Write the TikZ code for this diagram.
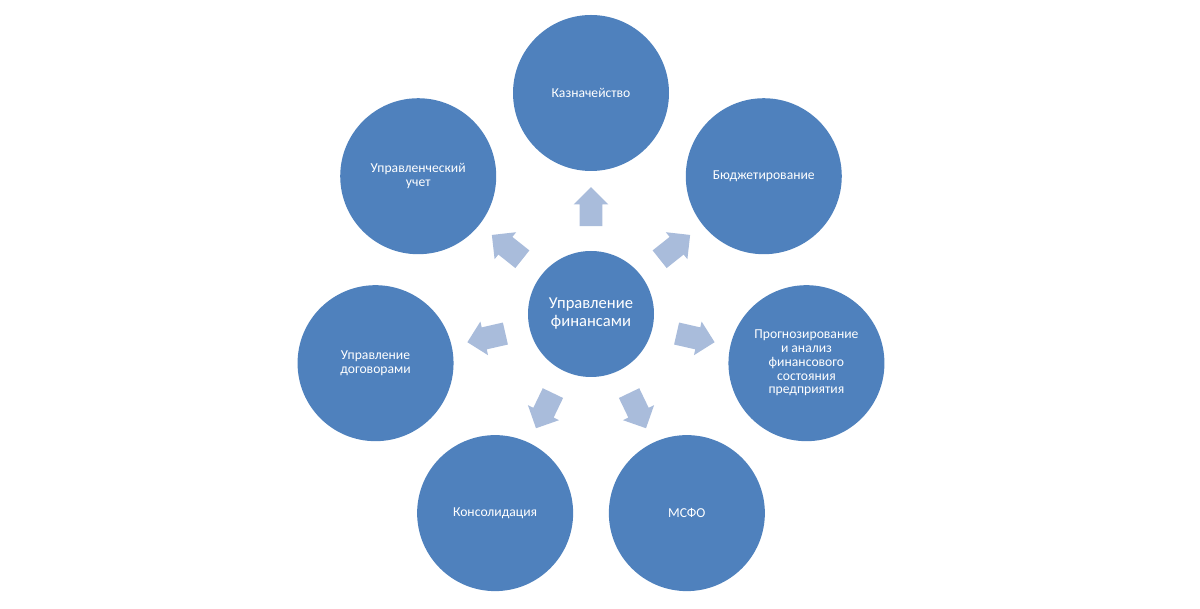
\documentclass[tikz,border=0pt]{standalone}
\usepackage{fontspec}
\setmainfont{Carlito}
\usetikzlibrary{shapes.arrows,calc}
\definecolor{circblue}{HTML}{4F81BD}
\definecolor{arrblue}{HTML}{A9BCDB}
\begin{document}
\begin{tikzpicture}[
    bigc/.style={circle,fill=circblue,minimum size=3.15cm,inner sep=0pt,text=white,align=center,font=\fontsize{11.8}{12.8}\selectfont},
    smallc/.style={circle,fill=circblue,minimum size=3.9cm,inner sep=0pt,text=white,align=center,font=\fontsize{9.7}{9.8}\selectfont},
    blockarr/.style={single arrow,fill=arrblue,minimum height=0.975cm,inner xsep=0pt,inner ysep=0.275cm,single arrow head extend=0.15cm}]
    \useasboundingbox (-14.775,-7.375) rectangle (15.225,7.85);
    \node[bigc] (fin) at (0,0) {Управление\\финансами};
    \node[smallc] (kazn) at (90:5.525) {Казначейство};
    \node[smallc] (budg) at (38.57:5.525) {Бюджетирование};
    \node[smallc] (prog) at (-12.86:5.525) {Прогнозирование\\и анализ\\финансового\\состояния\\предприятия};
    \node[smallc] (msfo) at (-64.29:5.525) {МСФО};
    \node[smallc] (kons) at (-115.71:5.525) {Консолидация};
    \node[smallc] (dogov) at (-167.14:5.525) {Управление\\договорами};
    \node[smallc] (uchet) at (141.43:5.525) {Управленческий\\учет};
    % arrows
    \node[blockarr,rotate=90] (a1) at ($(fin)!0.46!(kazn)$) {};
    \node[blockarr,rotate=38.57] (a2) at ($(fin)!0.46!(budg)$) {};
    \node[blockarr,rotate=-12.86] (a3) at ($(fin)!0.46!(prog)$) {};
    \node[blockarr,rotate=-64.29] (a4) at ($(fin)!0.46!(msfo)$) {};
    \node[blockarr,rotate=-115.71] (a5) at ($(fin)!0.46!(kons)$) {};
    \node[blockarr,rotate=-167.14] (a6) at ($(fin)!0.46!(dogov)$) {};
    \node[blockarr,rotate=141.43] (a7) at ($(fin)!0.46!(uchet)$) {};
\end{tikzpicture}
\end{document}
